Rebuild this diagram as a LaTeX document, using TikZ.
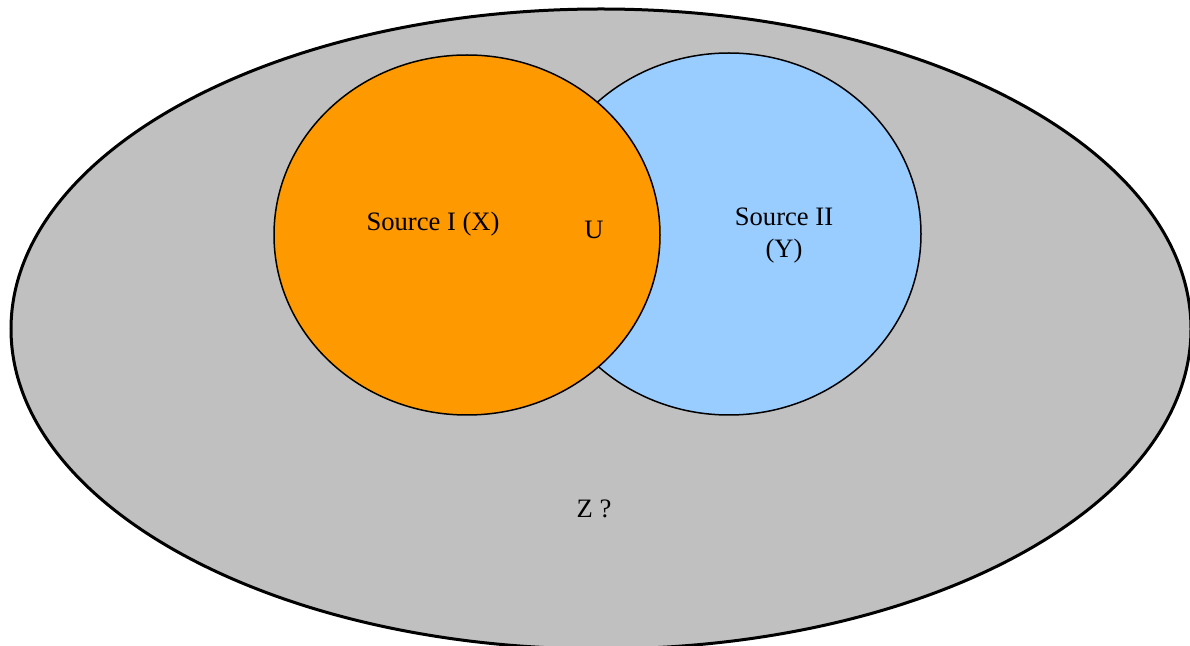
\documentclass[tikz,border=0pt]{standalone}
\usepackage{fontspec}
\setmainfont{Liberation Serif}
\usetikzlibrary{shapes.geometric}
\definecolor{zgray}{HTML}{C0C0C0}
\definecolor{xorange}{HTML}{FF9900}
\definecolor{yblue}{HTML}{99CCFF}
\begin{document}
\begin{tikzpicture}[x=0.5pt, y=-0.5pt,
    set/.style = {draw, ellipse, inner sep=0pt, line width=0.75pt},
    label/.style = {font=\fontsize{13.3}{16}\selectfont, align=center}]
    \useasboundingbox (0,0) rectangle (1190,646);
    \node[set, fill=zgray, line width=1.5pt, minimum width=590pt, minimum height=320pt] (z) at (601,329) {};
    \node[set, fill=yblue, minimum width=192pt, minimum height=181pt] (y) at (729,234) {};
    \node[set, fill=xorange, minimum width=193pt, minimum height=180pt] (x) at (467,235) {};
    \node[label] (xl) at (433,224) {Source I (X)};
    \node[label] (ul) at (594,230) {U};
    \node[label] (yl) at (784,236) {Source II\\(Y)};
    \node[label] (zl) at (594,509) {Z ?};
\end{tikzpicture}
\end{document}
